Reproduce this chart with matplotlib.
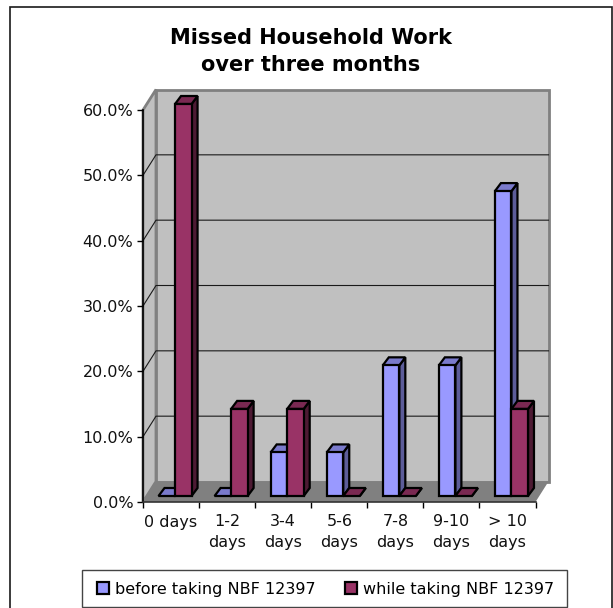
import matplotlib
matplotlib.use('Agg')
import numpy as np
from matplotlib import pyplot as plt
from matplotlib.patches import Polygon, Patch, Rectangle
from matplotlib.transforms import IdentityTransform

categories = ['0 days', '1-2\ndays', '3-4\ndays', '5-6\ndays', '7-8\ndays', '9-10\ndays', '> 10\ndays']
before = [0.0, 0.0, 6.67, 6.67, 20.0, 20.0, 46.67]
taking = [60.0, 13.33, 13.33, 0.0, 0.0, 0.0, 13.33]
series_names = ['before taking NBF 12397', 'while taking NBF 12397']
y_ticks = [0, 10, 20, 30, 40, 50, 60]

W, H = 613, 608
FS = 11.5

plt.rcParams['font.family'] = 'DejaVu Sans'
fig = plt.figure(figsize=(W / 100, H / 100), dpi=100, facecolor='white')
ax = fig.add_axes([143 / W, (H - 502) / H, 392.5 / W, 392 / H])
ax.set_xlim(0, len(categories))
ax.set_ylim(0, 60)
ax.patch.set_alpha(0)

DEPTH = np.array([13.0, 20.5])


def pt(x, y, off=(0, 0)):
    return ax.transData.transform((x, y)) + np.array(off)


def poly(points, zorder, fc='none', ec='none', lw=0):
    ax.add_patch(Polygon(points, closed=True, facecolor=fc, edgecolor=ec, linewidth=lw,
                         transform=IdentityTransform(), clip_on=False, zorder=zorder, joinstyle='miter'))


# walls and floor
n = len(categories)
poly([pt(0, 0), pt(0, 0, DEPTH), pt(0, 60, DEPTH), pt(0, 60)], 1, fc='#C0C0C0', ec='#808080', lw=2.0)
poly([pt(0, 0, DEPTH), pt(n, 0, DEPTH), pt(n, 60, DEPTH), pt(0, 60, DEPTH)], 1, fc='#C0C0C0', ec='#808080', lw=2.0)
poly([pt(0, 0), pt(n, 0), pt(n, 0, DEPTH), pt(0, 0, DEPTH)], 2, fc='#808080')

# gridlines
for v in y_ticks[1:-1]:
    a, b, c = pt(0, v), pt(0, v, DEPTH), pt(n, v, DEPTH)
    ax.plot([a[0], b[0], c[0]], [a[1], b[1], c[1]], color='#1a1a1a', lw=0.8,
            transform=IdentityTransform(), clip_on=False, zorder=2)

# bars
bar_w = 16.5 / 56
shift = (4, 6)
side = (6, 8)
styles = [('#9999FF', '#7A7ACC', '#5C5C99'), ('#993366', '#7A2952', '#4D1A33')]


def bar3d(x0, x1, v, cols, z):
    a = np.array(shift)
    s = a + np.array(side)
    poly([pt(x1, 0, a), pt(x1, 0, s), pt(x1, v, s), pt(x1, v, a)], z, fc=cols[2], ec='black', lw=1.6)
    poly([pt(x0, v, a), pt(x0, v, s), pt(x1, v, s), pt(x1, v, a)], z, fc=cols[1], ec='black', lw=1.6)
    if v > 0:
        poly([pt(x0, 0, a), pt(x1, 0, a), pt(x1, v, a), pt(x0, v, a)], z, fc=cols[0], ec='black', lw=1.6)


for i in range(n):
    c = i + 0.5
    bar3d(c - bar_w, c, before[i], styles[0], 3)
    bar3d(c, c + bar_w, taking[i], styles[1], 4)

# axes
for s in ['top', 'right']:
    ax.spines[s].set_visible(False)
for s in ['left', 'bottom']:
    ax.spines[s].set_linewidth(1.2)
    ax.spines[s].set_zorder(6)
ax.spines['bottom'].set_color('#333333')
ax.set_yticks(y_ticks)
ax.set_yticklabels(['%.1f%%' % v for v in y_ticks], fontsize=FS, color='#111111')
ax.tick_params(axis='y', direction='out', length=4, width=1, pad=3)
ax.set_xticks(range(n + 1))
ax.set_xticklabels([])
ax.tick_params(axis='x', which='major', direction='out', length=4.5, width=1)
ax.set_xticks(np.arange(n) + 0.5, minor=True)
ax.set_xticklabels(categories, minor=True, fontsize=FS, linespacing=1.5, va='top', color='#111111')
ax.tick_params(axis='x', which='minor', length=0, pad=9)

fig.text(311 / W, 1 - 51.5 / H, 'Missed Household Work\nover three months', ha='center', va='center',
         fontsize=15, fontweight='bold', linespacing=1.4)

# outer frame and legend box
fig.add_artist(Rectangle((9.5 / W, -0.01), 602 / W, 1.01 - 7 / H, transform=fig.transFigure,
                         fill=False, edgecolor='#1a1a1a', linewidth=1.2))
fig.add_artist(Rectangle((82 / W, (H - 607) / H), 485 / W, 37.5 / H, transform=fig.transFigure,
                         facecolor='white', edgecolor='#444444', linewidth=1.0))

handles = [Patch(facecolor=styles[0][0], edgecolor='black', linewidth=1.6),
           Patch(facecolor=styles[1][0], edgecolor='black', linewidth=1.6)]
leg = fig.legend(handles, series_names, ncol=2, loc='lower left',
                 bbox_to_anchor=(97 / W, (H - 597) / H, 457 / W, 18 / H), mode='expand',
                 fontsize=FS, frameon=False,
                 handlelength=0.78, handleheight=0.78, handletextpad=0.35, borderaxespad=0,
                 borderpad=0, columnspacing=1.5)

fig.savefig('out.png', dpi=100)
